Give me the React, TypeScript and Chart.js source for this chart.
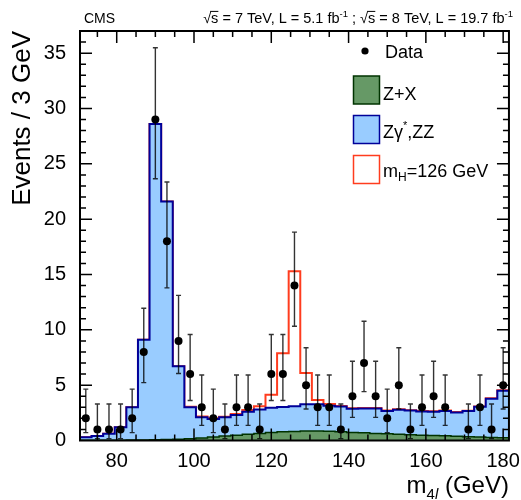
import { useEffect, useRef } from 'react'
import { Chart, registerables } from 'chart.js'

Chart.register(...registerables)

// bin centres (GeV), 3 GeV wide bins
const massBins = [
  72, 75, 78, 81, 84, 87, 90, 93, 96, 99, 102, 105, 108, 111, 114, 117, 120, 123, 126,
  129, 132, 135, 138, 141, 144, 147, 150, 153, 156, 159, 162, 165, 168, 171, 174, 177, 180,
]
const binWidth = 3

// observed events per bin
const dataCounts = [
  2, 1, 1, 1, 2, 8, 29, 18, 9, 6, 3, 2, 1, 3, 3, 1, 6, 6, 14, 5, 3, 3, 1, 4, 7, 4, 2, 5,
  1, 3, 4, 3, 0, 1, 3, 1, 5,
]
const errLow = [
  1.29, 0.83, 0.83, 0.83, 1.29, 2.77, 5.35, 4.21, 2.94, 2.38, 1.63, 1.29, 0.83, 1.63, 1.63,
  0.83, 2.38, 2.38, 3.68, 2.16, 1.63, 1.63, 0.83, 1.91, 2.58, 1.91, 1.29, 2.16, 0.83, 1.63,
  1.91, 1.63, 0, 0.83, 1.63, 0.83, 2.16,
]
const errHigh = [
  2.64, 2.3, 2.3, 2.3, 2.64, 3.95, 6.49, 5.35, 4.11, 3.58, 2.92, 2.64, 2.3, 2.92, 2.92, 2.3,
  3.58, 3.58, 4.83, 3.38, 2.92, 2.92, 2.3, 3.16, 3.77, 3.16, 2.64, 3.38, 2.3, 2.92, 3.16,
  2.92, 0, 2.3, 2.92, 2.3, 3.38,
]

// expected backgrounds and signal per bin
const zxEvents = [
  0.02, 0.02, 0.03, 0.03, 0.04, 0.05, 0.06, 0.08, 0.11, 0.16, 0.23, 0.32, 0.4, 0.48, 0.56,
  0.63, 0.72, 0.78, 0.82, 0.86, 0.86, 0.84, 0.78, 0.73, 0.69, 0.64, 0.6, 0.56, 0.52, 0.48,
  0.45, 0.42, 0.38, 0.35, 0.31, 0.28, 0.25,
]
const zzEvents = [
  0.28, 0.38, 0.57, 1.17, 2.96, 9.05, 28.54, 21.52, 6.59, 2.84, 1.87, 1.63, 1.7, 1.82, 2.04,
  2.17, 2.24, 2.25, 2.28, 2.41, 2.41, 2.31, 2.29, 2.15, 2.21, 2.26, 2.06, 2.22, 2.18, 2.15,
  2.15, 2.24, 2.16, 2.31, 2.74, 3.5, 4.25,
]
const higgsEvents = [
  0, 0, 0, 0, 0, 0, 0, 0, 0, 0.05, 0.06, 0.05, 0.05, 0.1, 0.15, 0.3, 1.18, 4.85, 12.2, 2.83,
  0.39, 0.15, 0.05, 0.04, 0.04, 0.04, 0.04, 0.04, 0.04, 0.04, 0.04, 0.04, 0.03, 0.03, 0.03,
  0.03, 0.03,
]

const xTicks = [80, 100, 120, 140, 160, 180]
const yTicks = [0, 5, 10, 15, 20, 25, 30, 35]

const FONT = '"Liberation Sans", Arial, Helvetica, sans-serif'
const GREEN = '#669966'
const GREEN_LINE = '#003300'
const BLUE = '#99ccff'
const BLUE_LINE = '#000099'
const RED = '#ff3c1e'

type Seg = { t: string; size: number; dy?: number; italic?: boolean; overline?: boolean }

function drawRich(ctx: CanvasRenderingContext2D, segs: Seg[], x: number, y: number, align: 'left' | 'right') {
  const fontOf = (s: Seg) => `${s.italic ? 'italic ' : ''}${s.size}px ${FONT}`
  let total = 0
  for (const s of segs) {
    ctx.font = fontOf(s)
    total += ctx.measureText(s.t).width
  }
  let cx = align === 'right' ? x - total : x
  ctx.textAlign = 'left'
  ctx.textBaseline = 'alphabetic'
  for (const s of segs) {
    ctx.font = fontOf(s)
    const w = ctx.measureText(s.t).width
    ctx.fillText(s.t, cx, y + (s.dy || 0))
    if (s.overline) {
      ctx.beginPath()
      ctx.lineWidth = 1
      ctx.moveTo(cx - 1, y - s.size * 0.8)
      ctx.lineTo(cx + w, y - s.size * 0.8)
      ctx.stroke()
    }
    cx += w
  }
}

const stepPoints = (vals: number[]) => {
  const pts = massBins.map((c, i) => ({ x: c - binWidth / 2, y: vals[i] }))
  pts.push({ x: massBins[massBins.length - 1] + binWidth / 2, y: vals[vals.length - 1] })
  return pts
}

const errorBars = {
  id: 'errorBars',
  beforeDatasetDraw(chart: any, args: any) {
    if (args.index !== 0) return
    const { ctx, scales } = chart
    ctx.save()
    ctx.strokeStyle = 'rgba(0,0,0,0.8)'
    ctx.lineWidth = 1.4
    massBins.forEach((c, i) => {
      if (dataCounts[i] <= 0) return
      const px = scales.x.getPixelForValue(c)
      const top = scales.y.getPixelForValue(dataCounts[i] + errHigh[i])
      const bot = scales.y.getPixelForValue(dataCounts[i] - errLow[i])
      ctx.beginPath()
      ctx.moveTo(px, top)
      ctx.lineTo(px, bot)
      ctx.moveTo(px - 2.5, top)
      ctx.lineTo(px + 2.5, top)
      ctx.moveTo(px - 2.5, bot)
      ctx.lineTo(px + 2.5, bot)
      ctx.stroke()
    })
    ctx.restore()
  },
}

const frameAndText = {
  id: 'frameAndText',
  afterDatasetsDraw(chart: any) {
    const { ctx, chartArea: a, scales } = chart
    ctx.save()
    ctx.strokeStyle = '#000'
    // ticks inside the frame
    ctx.lineWidth = 1.5
    ctx.beginPath()
    for (let v = 75; v <= 181; v += 5) {
      const px = scales.x.getPixelForValue(v)
      const len = xTicks.includes(v) ? 12 : 6
      ctx.moveTo(px, a.bottom)
      ctx.lineTo(px, a.bottom - len)
      ctx.moveTo(px, a.top)
      ctx.lineTo(px, a.top + len)
    }
    for (let v = 1; v <= 36; v += 1) {
      const py = scales.y.getPixelForValue(v)
      const len = yTicks.includes(v) ? 12 : 6
      ctx.moveTo(a.left, py)
      ctx.lineTo(a.left + len, py)
      ctx.moveTo(a.right, py)
      ctx.lineTo(a.right - len, py)
    }
    ctx.stroke()
    ctx.lineWidth = 2
    ctx.strokeRect(a.left, a.top, a.right - a.left, a.bottom - a.top)
    ctx.restore()
  },
  afterDraw(chart: any) {
    const { ctx, chartArea: a } = chart
    ctx.save()
    ctx.fillStyle = '#000'
    ctx.strokeStyle = '#000'

    // header
    drawRich(ctx, [{ t: 'CMS', size: 14 }], 84, 23, 'left')
    drawRich(
      ctx,
      [
        { t: '√', size: 14.5 },
        { t: 's', size: 14.5, overline: true },
        { t: ' = 7 TeV, L = 5.1 fb', size: 14.5 },
        { t: '-1', size: 9.5, dy: -6 },
        { t: ' ; ', size: 14.5 },
        { t: '√', size: 14.5 },
        { t: 's', size: 14.5, overline: true },
        { t: ' = 8 TeV, L = 19.7 fb', size: 14.5 },
        { t: '-1', size: 9.5, dy: -6 },
      ],
      513,
      23,
      'right',
    )

    // axis titles
    drawRich(
      ctx,
      [
        { t: 'm', size: 24 },
        { t: '4', size: 15, dy: 6 },
        { t: 'l', size: 15, dy: 6, italic: true },
        { t: ' (GeV)', size: 24 },
      ],
      a.right,
      493,
      'right',
    )
    ctx.save()
    ctx.translate(30, a.top)
    ctx.rotate(-Math.PI / 2)
    ctx.font = `26px ${FONT}`
    ctx.textAlign = 'right'
    ctx.textBaseline = 'alphabetic'
    ctx.fillText('Events / 3 GeV', 0, 0)
    ctx.restore()

    // legend
    ctx.beginPath()
    ctx.arc(365, 51, 3.6, 0, Math.PI * 2)
    ctx.fill()
    drawRich(ctx, [{ t: 'Data', size: 18 }], 385, 57.5, 'left')

    ctx.lineWidth = 1.5
    ctx.fillStyle = GREEN
    ctx.fillRect(353.5, 76, 26, 28)
    ctx.strokeStyle = GREEN_LINE
    ctx.strokeRect(353.5, 76, 26, 28)
    ctx.fillStyle = BLUE
    ctx.fillRect(353.5, 115.5, 26, 28)
    ctx.strokeStyle = BLUE_LINE
    ctx.strokeRect(353.5, 115.5, 26, 28)
    ctx.fillStyle = '#fff'
    ctx.fillRect(353.5, 155.5, 26, 28)
    ctx.strokeStyle = RED
    ctx.strokeRect(353.5, 155.5, 26, 28)

    ctx.fillStyle = '#000'
    ctx.strokeStyle = '#000'
    drawRich(ctx, [{ t: 'Z+X', size: 18 }], 383, 99.5, 'left')
    drawRich(
      ctx,
      [
        { t: 'Zγ', size: 18 },
        { t: '*', size: 11, dy: -9 },
        { t: ',ZZ', size: 18 },
      ],
      383,
      138,
      'left',
    )
    drawRich(
      ctx,
      [
        { t: 'm', size: 18 },
        { t: 'H', size: 12, dy: 4 },
        { t: '=126 GeV', size: 18 },
      ],
      383,
      176.5,
      'left',
    )
    ctx.restore()
  },
}

export default function App() {
  const canvasRef = useRef<HTMLCanvasElement>(null)
  const chartRef = useRef<Chart | null>(null)

  useEffect(() => {
    if (!canvasRef.current) return
    if (chartRef.current) chartRef.current.destroy()

    const zxTop = zxEvents
    const zzTop = zzEvents.map((v, i) => v + zxEvents[i])
    const higgsTop = higgsEvents.map((v, i) => v + zzTop[i])

    chartRef.current = new Chart(canvasRef.current, {
      type: 'line',
      data: {
        datasets: [
          {
            label: 'Data',
            data: massBins.map((c, i) => ({ x: c, y: dataCounts[i] })).filter((p) => p.y > 0),
            showLine: false,
            pointRadius: 4,
            pointBackgroundColor: '#000',
            pointBorderColor: '#000',
            pointBorderWidth: 0,
          },
          {
            label: 'Z+X',
            data: stepPoints(zxTop),
            stepped: true,
            fill: 'origin',
            backgroundColor: GREEN,
            borderColor: GREEN_LINE,
            borderWidth: 1.5,
            pointRadius: 0,
          },
          {
            label: 'Zγ*,ZZ',
            data: stepPoints(zzTop),
            stepped: true,
            fill: '-1',
            backgroundColor: BLUE,
            borderColor: BLUE_LINE,
            borderWidth: 2,
            pointRadius: 0,
          },
          {
            label: 'mH=126 GeV',
            data: stepPoints(higgsTop),
            stepped: true,
            fill: false,
            borderColor: RED,
            borderWidth: 2,
            pointRadius: 0,
          },
        ],
      },
      options: {
        animation: false,
        responsive: true,
        maintainAspectRatio: false,
        layout: { padding: { left: 0, top: 31, right: 12, bottom: 0 } },
        plugins: { legend: { display: false }, tooltip: { enabled: false } },
        scales: {
          x: {
            type: 'linear',
            min: 70.5,
            max: 181.5,
            grid: { display: false },
            border: { display: false },
            afterBuildTicks: (axis: any) => {
              axis.ticks = xTicks.map((v) => ({ value: v }))
            },
            afterFit: (axis: any) => {
              axis.height = 59.5
            },
            ticks: { color: '#000', padding: 1, font: { family: FONT, size: 20 }, maxRotation: 0 },
          },
          y: {
            min: 0,
            max: 37,
            grid: { display: false },
            border: { display: false },
            afterBuildTicks: (axis: any) => {
              axis.ticks = yTicks.map((v) => ({ value: v }))
            },
            afterFit: (axis: any) => {
              axis.width = 80
            },
            ticks: { color: '#000', padding: 6, font: { family: FONT, size: 20 } },
          },
        },
      },
      plugins: [errorBars, frameAndText],
    })

    return () => {
      if (chartRef.current) {
        chartRef.current.destroy()
        chartRef.current = null
      }
    }
  }, [])

  return (
    <div style={{ position: 'absolute', left: 0, top: 0, width: 521, height: 500, background: '#fff' }}>
      <canvas ref={canvasRef} />
    </div>
  )
}
